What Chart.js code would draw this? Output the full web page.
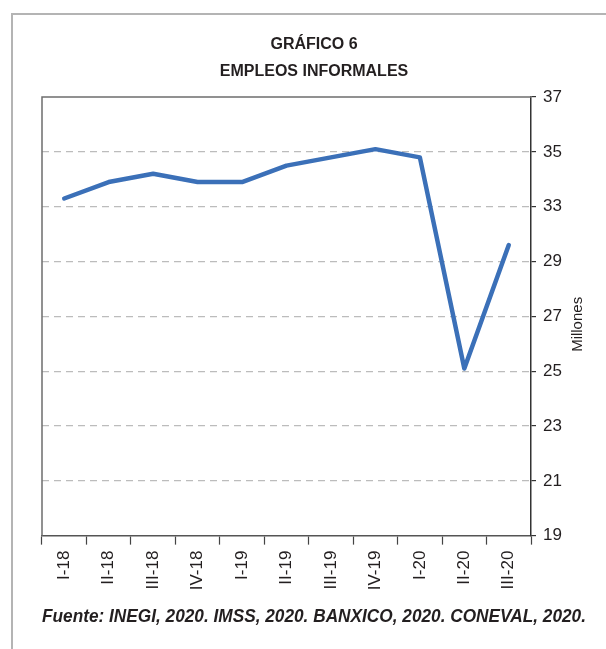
<!DOCTYPE html>
<html>
<head>
<meta charset="utf-8">
<script src="https://cdn.jsdelivr.net/npm/chart.js@4.4.1/dist/chart.umd.min.js"></script>
<style>
  body { margin: 0; background: #fff; overflow: hidden; }
  #frame { position: absolute; left: 11px; top: 13px; width: 600px; height: 650px;
           border-top: 2px solid #b4b4b4; border-left: 2px solid #b4b4b4; }
  #wrap { position: absolute; left: 0; top: 0; width: 606px; height: 649px; }
</style>
</head>
<body>
<div id="frame"></div>
<div id="wrap"><canvas id="myChart" width="606" height="649"></canvas></div>
<script>
'use strict';
// trimestres
let quarters = ['I-18', 'II-18', 'III-18', 'IV-18', 'I-19', 'II-19', 'III-19', 'IV-19', 'I-20', 'II-20', 'III-20'];
// empleos informales, millones
let informales = [33.3, 33.9, 34.2, 33.9, 33.9, 34.5, 34.8, 35.1, 34.8, 25.1, 30.2];
// etiquetas del eje tal como aparecen (sin 31)
let yLabels = [19, 21, 23, 25, 27, 29, 33, 35, 37];

// posicion en el eje segun las etiquetas impresas
function toPos(v) {
    for (let i = 0; i < yLabels.length - 1; i++) {
        if (v <= yLabels[i + 1]) {
            return i + (v - yLabels[i]) / (yLabels[i + 1] - yLabels[i]);
        }
    }
    return yLabels.length - 1;
}

let font = "'Liberation Sans', Arial, Helvetica, sans-serif";
Chart.defaults.font.family = font;
Chart.defaults.color = '#231f20';

let boxPlugin = {
    id: 'box',
    afterDraw(chart) {
        let ctx = chart.ctx;
        let a = chart.chartArea;
        ctx.save();
        ctx.strokeStyle = '#6e6e6e';
        ctx.lineWidth = 1.5;
        ctx.beginPath();
        ctx.moveTo(a.left, a.bottom);
        ctx.lineTo(a.left, a.top);
        ctx.lineTo(a.right, a.top);
        ctx.stroke();
        // titulo del eje, leido de abajo hacia arriba
        ctx.translate(578, (a.top + a.bottom) / 2 + 8);
        ctx.rotate(-Math.PI / 2);
        ctx.fillStyle = '#231f20';
        ctx.font = '15px ' + font;
        ctx.textAlign = 'center';
        ctx.textBaseline = 'middle';
        ctx.fillText('Millones', 0, 0);
        ctx.restore();
    }
};

let ctx = document.getElementById('myChart').getContext('2d');
let chart = new Chart(ctx, {
    type: 'line',
    data: {
        labels: quarters,
        datasets: [{
            label: 'Empleos informales',
            data: informales.map(toPos),
            borderColor: '#3b70b8',
            borderWidth: 4.5,
            pointRadius: 0,
            tension: 0,
            borderCapStyle: 'round',
            borderJoinStyle: 'round',
            fill: false
        }]
    },
    options: {
        responsive: false,
        animation: false,
        layout: { padding: { left: 42, right: 20, top: 0, bottom: 0 } },
        plugins: {
            legend: { display: false },
            tooltip: { enabled: false },
            title: {
                display: true,
                text: ['GRÁFICO 6', 'EMPLEOS INFORMALES'],
                font: { size: 16, weight: 'bold', lineHeight: 1.69 },
                color: '#231f20',
                padding: { top: 31.5, bottom: 11.5 }
            },
            subtitle: {
                display: true,
                position: 'bottom',
                text: 'Fuente: INEGI, 2020. IMSS, 2020. BANXICO, 2020. CONEVAL, 2020.',
                font: { size: 17.8, weight: 'bold', style: 'italic', lineHeight: 1.2 },
                color: '#231f20',
                padding: { top: 11, bottom: 21 }
            }
        },
        scales: {
            x: {
                offset: true,
                afterFit(scale) { scale.height = 60; },
                grid: {
                    offset: true,
                    drawOnChartArea: false,
                    tickLength: 9,
                    tickColor: '#444',
                    tickWidth: 1.2
                },
                border: { color: '#555', width: 1.5 },
                ticks: {
                    autoSkip: false,
                    minRotation: 90,
                    maxRotation: 90,
                    padding: 6,
                    font: { size: 17 },
                    color: '#231f20'
                }
            },
            y: {
                position: 'right',
                min: 0,
                max: yLabels.length - 1,
                afterFit(scale) { scale.width = 55; },
                grid: {
                    color(c) {
                        return (c.index === 0 || c.index === yLabels.length - 1) ? 'rgba(0,0,0,0)' : '#bcbcbc';
                    },
                    lineWidth: 1.2,
                    tickLength: 5,
                    tickColor: '#333',
                    tickWidth: 1.2
                },
                border: { color: '#333', width: 1.5, dash: [7, 5] },
                ticks: {
                    stepSize: 1,
                    padding: 7,
                    font: { size: 17 },
                    color: '#231f20',
                    callback(value) { return yLabels[value]; }
                }
            }
        }
    },
    plugins: [boxPlugin]
});
</script>
</body>
</html>
